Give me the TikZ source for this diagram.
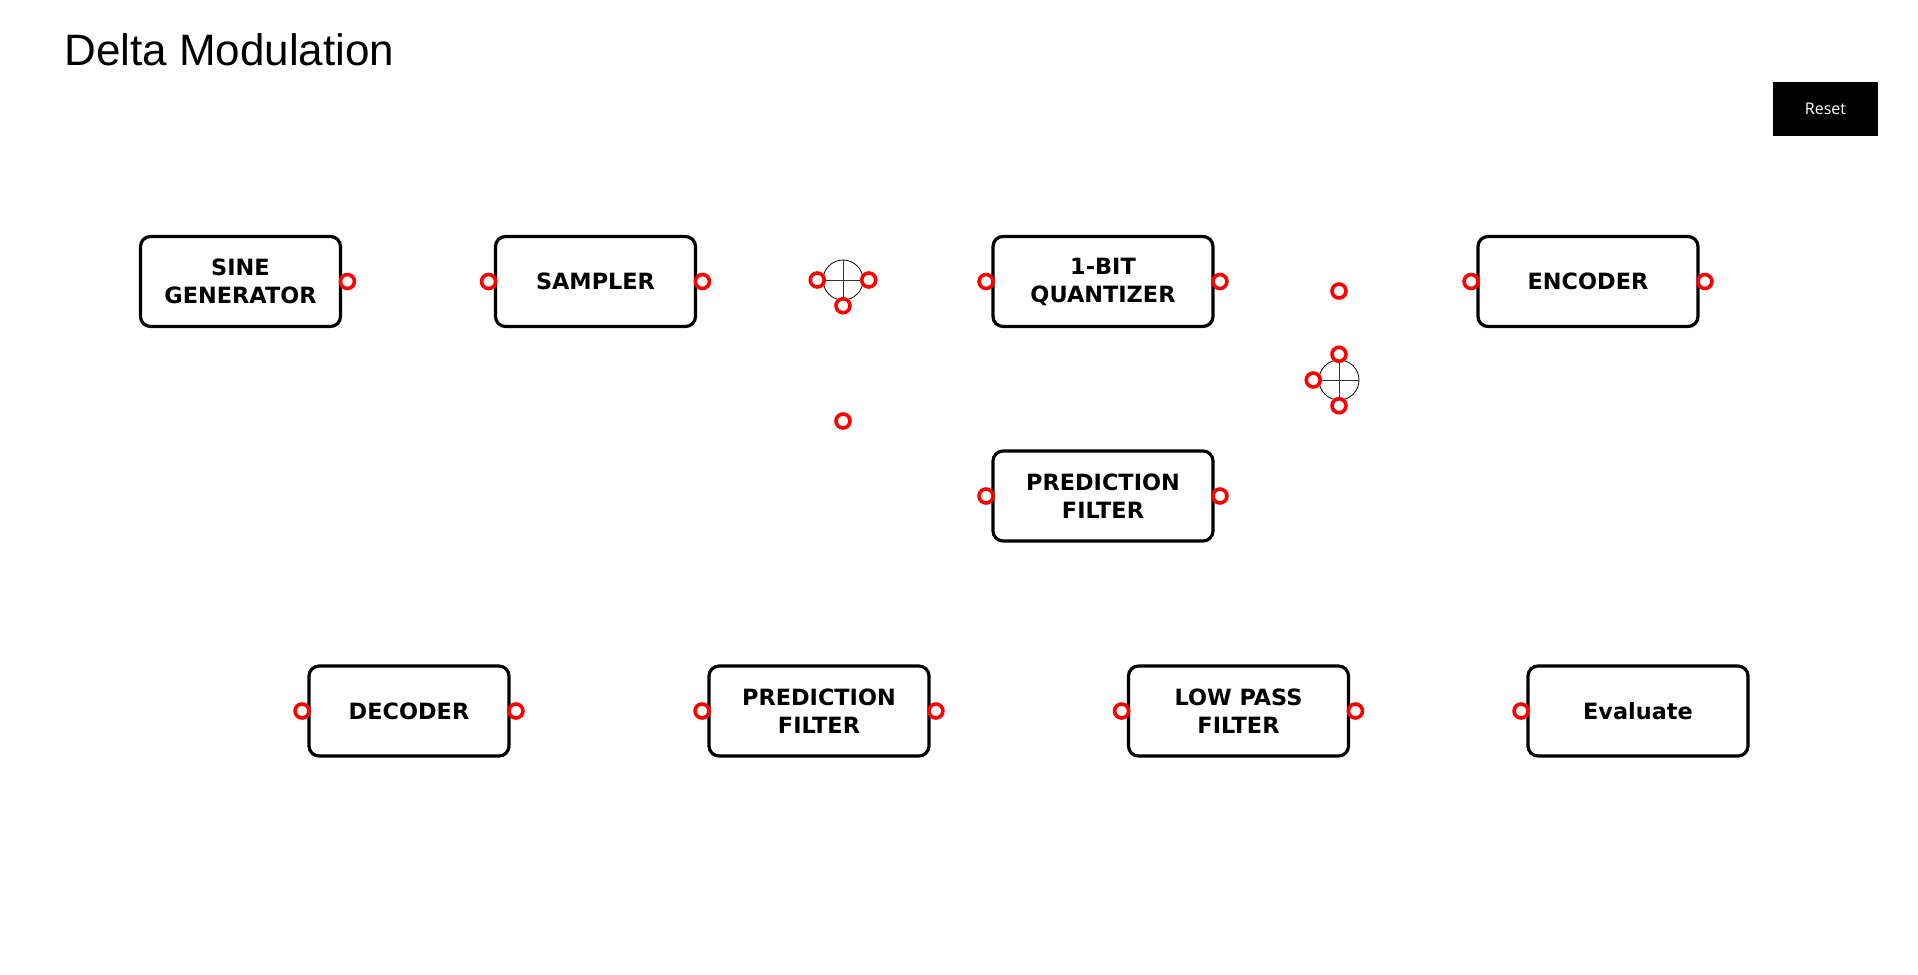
\documentclass[tikz,border=0pt]{standalone}
\usepackage{fontspec}
\setmainfont{DejaVu Sans}
\newfontfamily\titlefont{Liberation Sans}
\newfontfamily\btnfont{Open Sans}
\usepackage{tikz}
\usetikzlibrary{positioning}

\begin{document}
\begin{tikzpicture}[
  x=0.75pt, y=-0.75pt,
  block/.style={draw,line width=2.4pt,rounded corners=7.5pt,minimum width=150pt,minimum height=67.5pt,align=center,font=\fontsize{16.8}{21}\selectfont\bfseries},
  wide/.style={block,minimum width=165pt},
  port/.style={circle,draw=red,line width=2.7pt,fill=white,minimum size=10.5pt,inner sep=0pt},
  sum/.style={circle,draw,line width=0.6pt,minimum size=30pt,inner sep=0pt},
  cross/.style={line width=0.6pt,black!80},
  btn/.style={fill=black,text=white,minimum width=78.75pt,minimum height=40.5pt,font=\btnfont\fontsize{12}{14}\selectfont},
]
\useasboundingbox (0,0) rectangle (1918,975);

% header
\node[anchor=base west,inner sep=0pt,font=\titlefont\fontsize{33}{40}\selectfont] (title) at (64,65) {Delta Modulation};
\node[btn] (reset) at (1825.5,109) {Reset};

% Row 1, transmitter
\node[block] (sine)  at (240.5,281.5) {SINE\\GENERATOR};
\node[block] (samp)  at (595.5,281.5) {SAMPLER};
\node[sum]   (sumA)  at (843,280) {};
\node[wide]  (quant) at (1103,281.5) {1-BIT\\QUANTIZER};
\node[sum]   (sumB)  at (1339,380) {};
\node[wide]  (enc)   at (1588,281.5) {ENCODER};

% feedback path
\node[wide]  (predA) at (1103,496) {PREDICTION\\FILTER};

% Row 2, receiver
\node[block] (dec)   at (409,711) {DECODER};
\node[wide]  (predB) at (819,711) {PREDICTION\\FILTER};
\node[wide]  (lpf)   at (1238.5,711) {LOW PASS\\FILTER};
\node[wide]  (eval)  at (1638,711) {Evaluate};

% adders
\draw[cross] (sumA.north) -- (sumA.south) (sumA.west) -- (sumA.east);
\draw[cross] (sumB.north) -- (sumB.south) (sumB.west) -- (sumB.east);

% ports
\node[port] (sine-out)  at ([xshift=4pt]sine.east) {};
\node[port] (samp-in)   at ([xshift=-4pt]samp.west) {};
\node[port] (samp-out)  at ([xshift=4pt]samp.east) {};
\node[port] (sumA-in)   at ([xshift=-4pt]sumA.west) {};
\node[port] (sumA-out)  at ([xshift=4pt]sumA.east) {};
\node[port] (sumA-fb)   at ([yshift=-4pt]sumA.south) {};
\node[port] (sumA-tap)  at (843,421) {};
\node[port] (quant-in)  at ([xshift=-4pt]quant.west) {};
\node[port] (quant-out) at ([xshift=4pt]quant.east) {};
\node[port] (sumB-tap)  at (1339,291) {};
\node[port] (sumB-top)  at ([yshift=4pt]sumB.north) {};
\node[port] (sumB-in)   at ([xshift=-4pt]sumB.west) {};
\node[port] (sumB-bot)  at ([yshift=-4pt]sumB.south) {};
\node[port] (enc-in)    at ([xshift=-4pt]enc.west) {};
\node[port] (enc-out)   at ([xshift=4pt]enc.east) {};
\node[port] (predA-in)  at ([xshift=-4pt]predA.west) {};
\node[port] (predA-out) at ([xshift=4pt]predA.east) {};
\node[port] (dec-in)    at ([xshift=-4pt]dec.west) {};
\node[port] (dec-out)   at ([xshift=4pt]dec.east) {};
\node[port] (predB-in)  at ([xshift=-4pt]predB.west) {};
\node[port] (predB-out) at ([xshift=4pt]predB.east) {};
\node[port] (lpf-in)    at ([xshift=-4pt]lpf.west) {};
\node[port] (lpf-out)   at ([xshift=4pt]lpf.east) {};
\node[port] (eval-in)   at ([xshift=-4pt]eval.west) {};
\end{tikzpicture}
\end{document}
